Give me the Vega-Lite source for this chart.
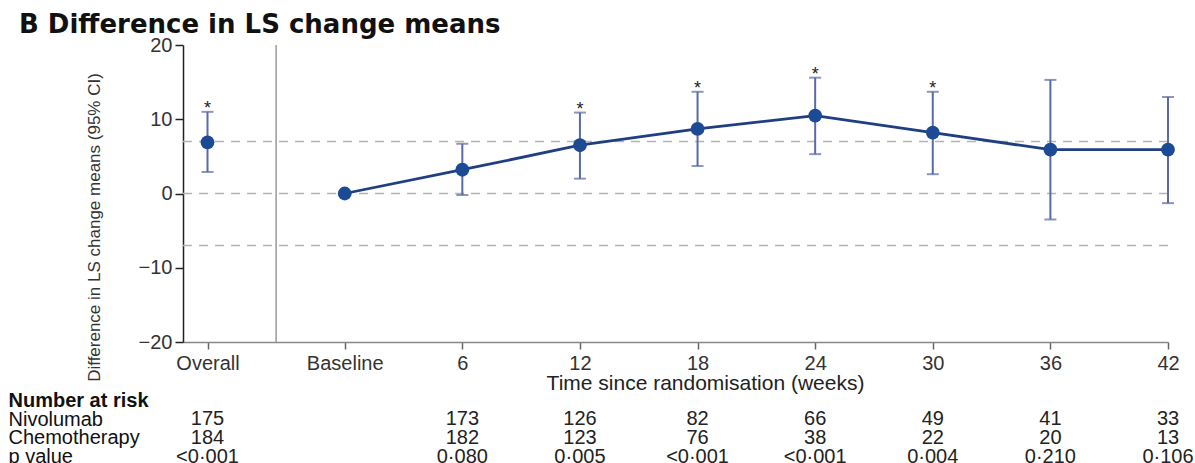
{
  "$schema": "https://vega.github.io/schema/vega-lite/v6.json",
  "padding": {"left": 8, "top": 12, "right": 0, "bottom": 0},
  "background": "white",
  "config": {"font": "Liberation Sans", "view": {"stroke": null}, "axis": {"grid": false}},
  "title": {"text": "B Difference in LS change means", "font": "DejaVu Sans", "fontSize": 26, "fontWeight": "bold", "color": "#111", "anchor": "start", "dx": 11, "offset": -3},
  "spacing": -10,
  "vconcat": [
    {
      "width": 985,
      "height": 297,
      "data": {"values": [
        {"label": "Overall", "week": -7, "mean": 6.9, "lo": 2.9, "hi": 11.0, "sig": true},
        {"label": "Baseline", "week": 0, "mean": 0, "lo": null, "hi": null, "sig": false},
        {"label": "6", "week": 6, "mean": 3.2, "lo": -0.2, "hi": 6.7, "sig": false},
        {"label": "12", "week": 12, "mean": 6.5, "lo": 2.0, "hi": 10.9, "sig": true},
        {"label": "18", "week": 18, "mean": 8.7, "lo": 3.7, "hi": 13.7, "sig": true},
        {"label": "24", "week": 24, "mean": 10.5, "lo": 5.3, "hi": 15.6, "sig": true},
        {"label": "30", "week": 30, "mean": 8.2, "lo": 2.6, "hi": 13.7, "sig": true},
        {"label": "36", "week": 36, "mean": 5.9, "lo": -3.5, "hi": 15.3, "sig": false},
        {"label": "42", "week": 42, "mean": 5.9, "lo": -1.3, "hi": 13.0, "sig": false}
      ]},
      "layer": [
        {
          "data": {"values": [{"ref": 7}, {"ref": 0}, {"ref": -7}]},
          "mark": {"type": "rule", "color": "#b3b3b3", "strokeWidth": 1.5, "strokeDash": [9, 7]},
          "encoding": {
            "y": {"field": "ref", "type": "quantitative",
              "scale": {"domain": [-20, 20], "nice": false, "zero": false},
              "axis": {"values": [-20, -10, 0, 10, 20], "title": "Difference in LS change means (95% CI)",
                "titleFontSize": 17, "titleFontWeight": "normal", "titleColor": "#333",
                "titleX": -89, "titleY": 182, "titleBaseline": "middle", "titleAlign": "center",
                "labelFontSize": 20, "labelColor": "#333", "tickSize": 8, "tickColor": "#222", "tickWidth": 1.5,
                "domainColor": "#222", "domainWidth": 1.5, "labelPadding": 3}}
          }
        },
        {
          "data": {"values": [{"sep": -3.5}]},
          "mark": {"type": "rule", "color": "#9a9a9a", "strokeWidth": 1.5},
          "encoding": {"x": {"field": "sep", "type": "quantitative"}}
        },
        {
          "mark": {"type": "rule", "color": "#5a6aa5", "strokeWidth": 2},
          "encoding": {
            "x": {"field": "week", "type": "quantitative",
              "scale": {"domain": [-8.25, 42], "nice": false, "zero": false},
              "axis": {"values": [-7, 0, 6, 12, 18, 24, 30, 36, 42],
                "labelExpr": "datum.value == -7 ? 'Overall' : datum.value == 0 ? 'Baseline' : datum.label",
                "title": null, "labelFontSize": 20, "labelColor": "#333", "tickSize": 7, "tickColor": "#666",
                "tickWidth": 1.5, "domainColor": "#888", "domainWidth": 1.5, "labelPadding": 4,
                "labelFlush": false, "labelOverlap": false}},
            "y": {"field": "lo", "type": "quantitative"},
            "y2": {"field": "hi"}
          }
        },
        {
          "mark": {"type": "tick", "orient": "horizontal", "color": "#5a6aa5", "size": 12, "thickness": 2},
          "encoding": {"x": {"field": "week", "type": "quantitative"}, "y": {"field": "lo", "type": "quantitative"}}
        },
        {
          "mark": {"type": "tick", "orient": "horizontal", "color": "#5a6aa5", "size": 12, "thickness": 2},
          "encoding": {"x": {"field": "week", "type": "quantitative"}, "y": {"field": "hi", "type": "quantitative"}}
        },
        {
          "transform": [{"filter": "datum.week >= 0"}],
          "mark": {"type": "line", "color": "#1f3f80", "strokeWidth": 2.8},
          "encoding": {"x": {"field": "week", "type": "quantitative"}, "y": {"field": "mean", "type": "quantitative"}}
        },
        {
          "mark": {"type": "point", "filled": true, "opacity": 1, "color": "#1d4a94", "size": 190},
          "encoding": {"x": {"field": "week", "type": "quantitative"}, "y": {"field": "mean", "type": "quantitative"}}
        },
        {
          "transform": [{"filter": "datum.sig"}],
          "mark": {"type": "text", "text": "*", "fontSize": 18, "baseline": "alphabetic", "dy": 2, "color": "#222"},
          "encoding": {"x": {"field": "week", "type": "quantitative"}, "y": {"field": "hi", "type": "quantitative"}}
        }
      ]
    },
    {
      "width": 985,
      "height": 75,
      "data": {"values": [
        {"row": "Nivolumab", "week": -7, "text": "175"},
        {"row": "Nivolumab", "week": 6, "text": "173"},
        {"row": "Nivolumab", "week": 12, "text": "126"},
        {"row": "Nivolumab", "week": 18, "text": "82"},
        {"row": "Nivolumab", "week": 24, "text": "66"},
        {"row": "Nivolumab", "week": 30, "text": "49"},
        {"row": "Nivolumab", "week": 36, "text": "41"},
        {"row": "Nivolumab", "week": 42, "text": "33"},
        {"row": "Chemotherapy", "week": -7, "text": "184"},
        {"row": "Chemotherapy", "week": 6, "text": "182"},
        {"row": "Chemotherapy", "week": 12, "text": "123"},
        {"row": "Chemotherapy", "week": 18, "text": "76"},
        {"row": "Chemotherapy", "week": 24, "text": "38"},
        {"row": "Chemotherapy", "week": 30, "text": "22"},
        {"row": "Chemotherapy", "week": 36, "text": "20"},
        {"row": "Chemotherapy", "week": 42, "text": "13"},
        {"row": "p value", "week": -7, "text": "<0·001"},
        {"row": "p value", "week": 6, "text": "0·080"},
        {"row": "p value", "week": 12, "text": "0·005"},
        {"row": "p value", "week": 18, "text": "<0·001"},
        {"row": "p value", "week": 24, "text": "<0·001"},
        {"row": "p value", "week": 30, "text": "0·004"},
        {"row": "p value", "week": 36, "text": "0·210"},
        {"row": "p value", "week": 42, "text": "0·106"}
      ]},
      "mark": {"type": "text", "fontSize": 20, "color": "#222", "baseline": "middle"},
      "encoding": {
        "x": {"field": "week", "type": "quantitative",
          "scale": {"domain": [-8.25, 42], "nice": false, "zero": false},
          "axis": {"orient": "top", "title": "Time since randomisation (weeks)", "labels": false, "ticks": false,
            "domain": false, "titleFontSize": 21, "titleFontWeight": "normal", "titleColor": "#222",
            "titleX": 522, "titleY": -8, "titleBaseline": "middle", "titleAlign": "center"}},
        "y": {"field": "row", "type": "nominal",
          "scale": {"type": "point", "padding": 0.5, "domain": ["Number at risk", "Nivolumab", "Chemotherapy", "p value"]},
          "axis": {"title": null, "ticks": false, "domain": false, "labelAlign": "left", "labelPadding": 175,
            "labelFontSize": 20, "labelColor": "#111", "labelBaseline": "middle",
            "labelFontWeight": {"condition": {"test": "datum.value == 'Number at risk'", "value": "bold"}, "value": "normal"}}},
        "text": {"field": "text", "type": "nominal"}
      }
    }
  ]
}
